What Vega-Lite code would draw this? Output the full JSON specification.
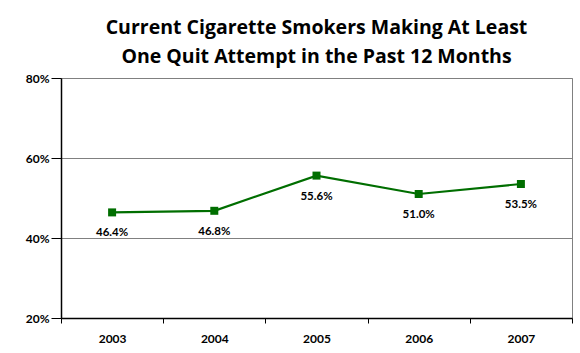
{
  "$schema": "https://vega.github.io/schema/vega-lite/v6.json",
  "autosize": {"type": "none"},
  "width": 511,
  "height": 240,
  "padding": {"left": 61, "top": 78, "right": 8, "bottom": 35},
  "background": "white",
  "title": {
    "text": ["Current Cigarette Smokers Making At Least", "One Quit Attempt in the Past 12 Months"],
    "font": "Open Sans",
    "fontSize": 19.5,
    "fontWeight": "bold",
    "color": "#000000",
    "lineHeight": 29,
    "anchor": "middle",
    "offset": 5
  },
  "config": {
    "view": {"stroke": "#808080", "strokeWidth": 1},
    "axis": {
      "labelFont": "Lato",
      "labelFontWeight": "bold",
      "labelFontSize": 12,
      "labelColor": "#000000",
      "domainColor": "#000000",
      "tickColor": "#000000",
      "title": null
    }
  },
  "data": {
    "values": [
      {"year": "2003", "pct": 46.4, "label": "46.4%"},
      {"year": "2004", "pct": 46.8, "label": "46.8%"},
      {"year": "2005", "pct": 55.6, "label": "55.6%"},
      {"year": "2006", "pct": 51.0, "label": "51.0%"},
      {"year": "2007", "pct": 53.5, "label": "53.5%"}
    ]
  },
  "encoding": {
    "x": {
      "field": "year",
      "type": "ordinal",
      "scale": {"paddingInner": 0, "paddingOuter": 0},
      "axis": {"labelAngle": 0, "tickBand": "extent", "tickSize": 5, "labelPadding": 10, "domainWidth": 1.5, "grid": false}
    },
    "y": {
      "field": "pct",
      "type": "quantitative",
      "scale": {"domain": [20, 80], "nice": false, "zero": false},
      "axis": {"values": [20, 40, 60, 80], "labelExpr": "datum.value + '%'", "tickSize": 10, "labelPadding": 2, "domainWidth": 1.5, "grid": true, "gridColor": "#808080", "gridWidth": 1}
    }
  },
  "layer": [
    {"mark": {"type": "line", "color": "#006E00", "strokeWidth": 2.2}},
    {"mark": {"type": "square", "color": "#006E00", "size": 64, "opacity": 1, "filled": true}},
    {
      "mark": {"type": "text", "font": "Lato", "fontSize": 11.5, "fontWeight": "bold", "color": "#000000", "dy": 21, "baseline": "middle"},
      "encoding": {"text": {"field": "label"}}
    }
  ]
}
